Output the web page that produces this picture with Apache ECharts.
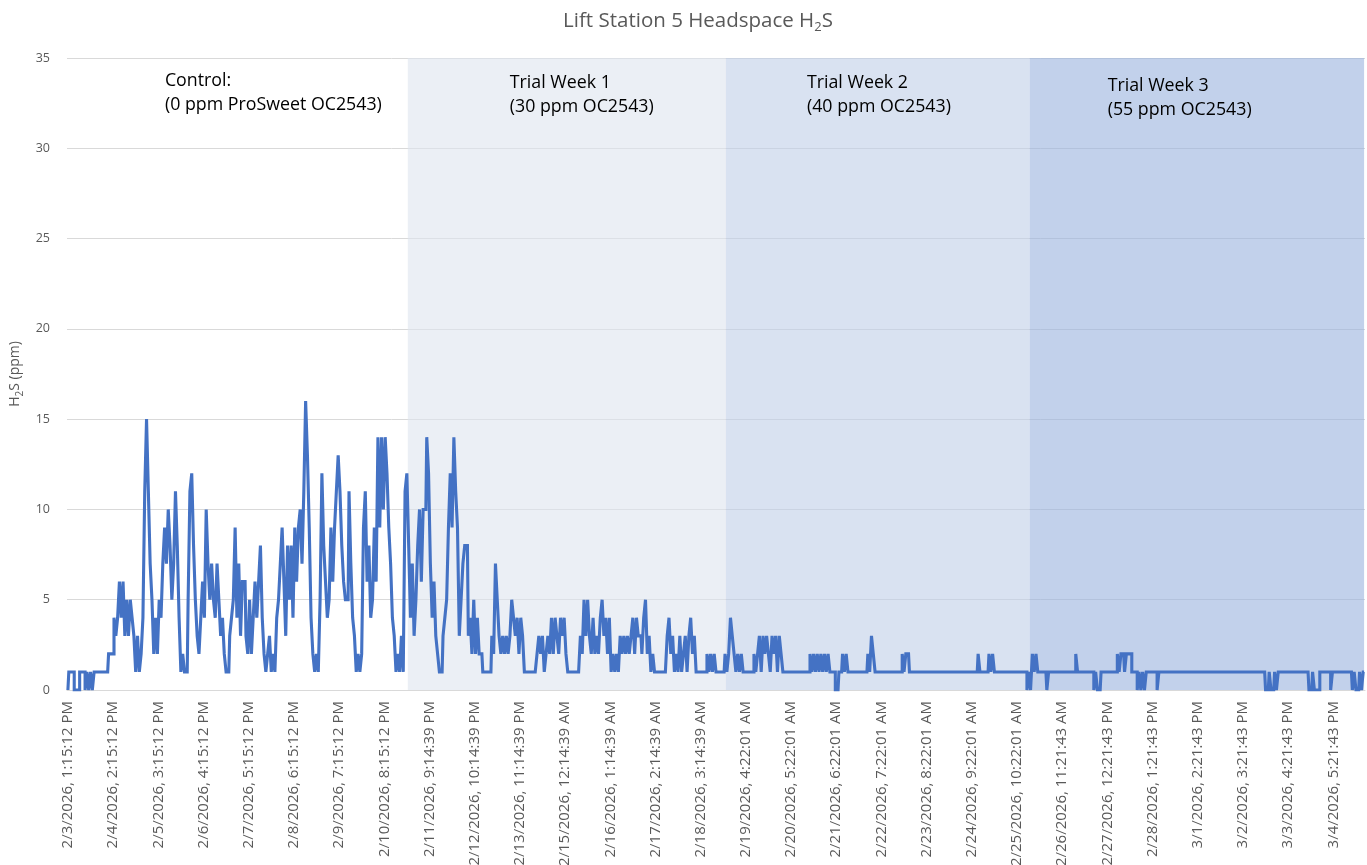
<!DOCTYPE html>
<html><head><meta charset="utf-8">
<script src="https://cdn.jsdelivr.net/npm/echarts@6/dist/echarts.min.js"></script>
<style>html,body{margin:0;padding:0;background:#fff}#c{width:1367px;height:865px}</style>
</head><body><div id="c"></div>
<script>
// x-axis tick labels (one every 25 samples)
const tickLabels = [
"2/3/2026, 1:15:12 PM","2/4/2026, 2:15:12 PM","2/5/2026, 3:15:12 PM","2/6/2026, 4:15:12 PM",
"2/7/2026, 5:15:12 PM","2/8/2026, 6:15:12 PM","2/9/2026, 7:15:12 PM","2/10/2026, 8:15:12 PM",
"2/11/2026, 9:14:39 PM","2/12/2026, 10:14:39 PM","2/13/2026, 11:14:39 PM","2/15/2026, 12:14:39 AM",
"2/16/2026, 1:14:39 AM","2/17/2026, 2:14:39 AM","2/18/2026, 3:14:39 AM","2/19/2026, 4:22:01 AM",
"2/20/2026, 5:22:01 AM","2/21/2026, 6:22:01 AM","2/22/2026, 7:22:01 AM","2/23/2026, 8:22:01 AM",
"2/24/2026, 9:22:01 AM","2/25/2026, 10:22:01 AM","2/26/2026, 11:21:43 AM","2/27/2026, 12:21:43 PM",
"2/28/2026, 1:21:43 PM","3/1/2026, 2:21:43 PM","3/2/2026, 3:21:43 PM","3/3/2026, 4:21:43 PM",
"3/4/2026, 5:21:43 PM"];
const tickEvery = 25;

// H2S readings (ppm)
const controlH2S = [
0,1,1,1,0,0,0,1,1,1,
0,1,0,1,0,1,1,1,1,1,
1,1,1,2,2,2,4,3,4,6,
4,6,3,5,3,5,4,3,1,3,
1,2,4,11,15,11,7,5,2,4,
2,5,4,7,9,7,10,8,5,7,
11,8,4,1,2,1,1,5,11,12,
8,5,3,2,4,6,4,10,7,5,
7,5,4,7,5,3,4,2,1,1,
3,4,5,9,4,7,3,6,6,3,
2,5,2,4,6,4,6,8,4,2,
1,2,3,1,2,1,4,5,7,9,
6,3,8,5,8,4,9,6,9,10,
7,11,16,13,9,4,2,1,2,1,
5,12,8,6,4,5,9,6,9,11,
13,11,8,6,5,5,11,7,4,3,
1,2,1,2,9,11,6,8,4,5,
9,6,14,9,14,10,14,12,9,7,
4,3,1,2,1,3,1,11,12];
const week1H2S = [
8,4,7,3,5,8,10,6,10,10,
14,12,7,4,6,3,2,1,1,3,
4,5,9,12,9,14,11,9,3,5,
7,8,8,3,4,2,5,2,4,2,
2,1,1,1,1,1,3,2,7,5,
3,2,3,2,3,2,3,5,4,3,
4,2,4,3,1,1,1,1,1,1,
1,2,3,2,3,1,2,3,2,4,
2,4,3,2,4,3,4,2,1,1,
1,1,1,1,1,3,2,5,3,5,
3,2,4,2,3,2,4,5,3,4,
2,4,1,2,1,2,1,3,2,3,
2,3,2,3,4,2,4,3,3,2,
4,5,2,3,1,2,1,1,1,1,
1,1,1,3,4,2,3,1,2,1,
3,1,2,3,1,3,4,2,3,1,
1,1,1,1,1,2,1,2,1,2,
1,1,1,1,1];
const week2H2S = [
2,1,2,4,3,2,1,2,1,2,
1,1,1,1,1,1,2,1,2,3,
1,3,2,3,2,1,3,2,3,1,
3,2,1,1,1,1,1,1,1,1,
1,1,1,1,1,1,1,2,1,2,
1,2,1,2,1,2,1,2,1,1,
1,0,0,1,1,2,1,2,1,1,
1,1,1,1,1,1,1,1,1,2,
1,3,2,1,1,1,1,1,1,1,
1,1,1,1,1,1,1,1,2,1,
2,2,1,1,1,1,1,1,1,1,
1,1,1,1,1,1,1,1,1,1,
1,1,1,1,1,1,1,1,1,1,
1,1,1,1,1,1,1,1,1,1,
2,1,1,1,1,1,2,1,2,1,
1,1,1,1,1,1,1,1,1,1,
1,1,1,1,1,1,1,0,1];
const week3H2S = [
0,2,1,2,1,1,1,1,1,0,
1,1,1,1,1,1,1,1,1,1,
1,1,1,1,1,2,1,1,1,1,
1,1,1,1,1,0,1,0,0,1,
1,1,1,1,1,1,1,1,2,1,
2,2,1,2,2,2,1,1,1,0,
1,0,1,0,1,1,1,1,1,1,
0,1,1,1,1,1,1,1,1,1,
1,1,1,1,1,1,1,1,1,1,
1,1,1,1,1,1,1,1,1,1,
1,1,1,1,1,1,1,1,1,1,
1,1,1,1,1,1,1,1,1,1,
1,1,1,1,1,1,1,1,1,1,
0,0,1,0,0,1,0,1,1,1,
1,1,1,1,1,1,1,1,1,1,
1,1,1,1,0,0,1,0,0,0,
1,1,1,1,1,1,0,1,1,1,
1,1,1,1,1,1,1,1,0,1,
0,0,1,0,1];

// trial phases (sample index ranges)
const phaseNames = ["Control:\n(0 ppm ProSweet OC2543)","Trial Week 1\n(30 ppm OC2543)",
                    "Trial Week 2\n(40 ppm OC2543)","Trial Week 3\n(55 ppm OC2543)"];
const phaseStart = [0,188,364,532];
const phaseEnd   = [188,364,532,717];

// styling
const phaseFill = ['rgba(255,255,255,0)','rgba(221,229,238,0.6)','rgba(192,206,231,0.6)','rgba(153,179,221,0.6)'];
const phaseLabelOffset = [[97,11],[102,13],[81,13],[78,16]];
const FONT = 'Open Sans';

const values = controlH2S.concat(week1H2S, week2H2S, week3H2S);
const categories = values.map((v,i) => (i % tickEvery === 0 && tickLabels[i/tickEvery]) ? tickLabels[i/tickEvery] : '');

const areas = phaseNames.map((n,k) => [
  {name: n, xAxis: phaseStart[k], itemStyle: {color: phaseFill[k]},
   label: {show: true, position: 'insideTopLeft', distance: 0, offset: phaseLabelOffset[k],
           color: '#000', fontFamily: FONT, fontSize: 17.8, lineHeight: 24, formatter: n}},
  {xAxis: phaseEnd[k]}
]);

const chart = echarts.init(document.getElementById('c'), null, {renderer: 'canvas'});
chart.setOption({
  animation: false,
  backgroundColor: '#fff',
  title: {
    text: '{a|Lift Station 5 Headspace H}{s|2}{a|S}',
    left: 693, top: 2, textAlign: 'center',
    textStyle: {
      fontWeight: 'normal',
      rich: {
        a: {fontFamily: FONT, fontSize: 20.5, fontWeight: 'normal', color: '#595959', lineHeight: 28},
        s: {fontFamily: FONT, fontSize: 13, fontWeight: 'normal', color: '#595959', lineHeight: 13, verticalAlign: 'top', padding: [14,0,0,0]}
      }
    }
  },
  grid: {left: 67, right: 2, top: 58, bottom: 175, containLabel: false, outerBoundsMode: 'none'},
  xAxis: {
    type: 'category', data: categories, boundaryGap: true,
    axisLine: {lineStyle: {color: '#D9D9D9', width: 1}},
    axisTick: {show: false},
    axisLabel: {interval: tickEvery - 1, rotate: 90, margin: 11, color: '#595959', fontFamily: FONT, fontSize: 15},
    splitLine: {show: false}
  },
  yAxis: {
    type: 'value', min: 0, max: 35, interval: 5,
    name: '{a|H}{s|2}{a|S (ppm)}', nameLocation: 'middle', nameGap: 41, nameRotate: 90,
    nameTextStyle: {
      rich: {
        a: {fontFamily: FONT, fontSize: 14, color: '#595959', lineHeight: 20},
        s: {fontFamily: FONT, fontSize: 10, color: '#595959', lineHeight: 10, verticalAlign: 'top', padding: [10,0,0,0]}
      }
    },
    axisLine: {show: false}, axisTick: {show: false},
    axisLabel: {color: '#595959', fontFamily: FONT, fontSize: 12.5, margin: 17},
    splitLine: {lineStyle: {color: '#D9D9D9', width: 1}}
  },
  series: [{
    type: 'line', data: values, showSymbol: false, symbol: 'none', step: 'middle',
    lineStyle: {color: '#4472C4', width: 3.1, join: 'miter'},
    itemStyle: {color: '#4472C4'},
    z: 3,
    markArea: {silent: true, z: 1, data: areas}
  }]
});
</script></body></html>
